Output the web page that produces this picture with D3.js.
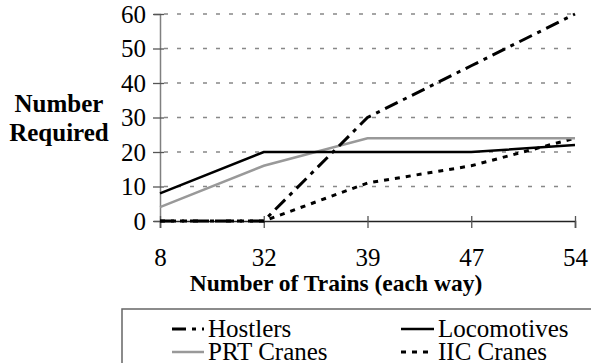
<!DOCTYPE html>
<html>
<head>
<meta charset="utf-8">
<script src="https://cdn.jsdelivr.net/npm/d3@7"></script>
<style>
  html, body { margin: 0; padding: 0; background: #fff; }
  svg { display: block; }
</style>
</head>
<body>
<svg id="chart" width="591" height="363"></svg>
<script>
// Trains per day (each way) and the equipment / staff needed at each level
const trains = ["8", "32", "39", "47", "54"];
const hostlers = [0, 0, 30, 45, 60];
const locomotives = [8, 20, 20, 20, 22];
const prtCranes = [4, 16, 24, 24, 24];
const iicCranes = [0, 0, 11, 16, 24];
const yTicks = [0, 10, 20, 30, 40, 50, 60];

const series = [
  { name: "Hostlers", values: hostlers, color: "#000", width: 3, dash: "14,6,4,6" },
  { name: "Locomotives", values: locomotives, color: "#000", width: 2.5, dash: null },
  { name: "PRT Cranes", values: prtCranes, color: "#999", width: 2.5, dash: null },
  { name: "IIC Cranes", values: iicCranes, color: "#000", width: 3, dash: "5,6" }
];

const FONT = "'Liberation Serif', 'DejaVu Serif', serif";

const svg = d3.select("#chart").attr("font-family", FONT);
const plot = { left: 160, right: 575, top: 14, bottom: 221 };

const x = d3.scalePoint().domain(trains).range([plot.left, plot.right]);
const y = d3.scaleLinear().domain([0, 60]).range([plot.bottom, plot.top]);

// Dashed horizontal gridlines
svg.append("g")
  .selectAll("line")
  .data(yTicks.filter(d => d > 0))
  .join("line")
  .attr("x1", plot.left + 4).attr("x2", plot.right)
  .attr("y1", d => y(d)).attr("y2", d => y(d))
  .attr("stroke", "#888").attr("stroke-width", 1.3)
  .attr("stroke-dasharray", "4,9");

// Y axis
const yAxis = svg.append("g")
  .attr("transform", `translate(${plot.left},0)`)
  .call(d3.axisLeft(y).tickValues(yTicks).tickSize(6).tickPadding(12))
  .attr("font-family", FONT);
yAxis.select(".domain").attr("stroke", "#808080").attr("stroke-width", 1.5);
yAxis.selectAll(".tick line").attr("x2", 4).attr("x1", -7).attr("stroke", "#555").attr("stroke-width", 1.3);
yAxis.selectAll(".tick text")
  .attr("font-size", 25).attr("fill", "#000")
  .style("font-family", FONT)
  .attr("x", -14);

// X axis
const xAxis = svg.append("g")
  .attr("transform", `translate(0,${plot.bottom})`)
  .call(d3.axisBottom(x).tickSize(7).tickPadding(20))
  .attr("font-family", FONT);
xAxis.select(".domain").attr("stroke", "#222").attr("stroke-width", 1.5);
xAxis.selectAll(".tick line").attr("y1", -5).attr("y2", 7).attr("stroke", "#555").attr("stroke-width", 1.3);
xAxis.selectAll(".tick text")
  .attr("font-size", 25).attr("fill", "#000")
  .style("font-family", FONT);

// Series lines
const line = d3.line()
  .x((d, i) => x(trains[i]))
  .y(d => y(d));

svg.append("g")
  .selectAll("path")
  .data(series.slice().reverse())
  .join("path")
  .attr("d", d => line(d.values))
  .attr("fill", "none")
  .attr("stroke", d => d.color)
  .attr("stroke-width", d => d.width)
  .attr("stroke-dasharray", d => d.dash);

// Axis titles
svg.append("text")
  .attr("x", 336).attr("y", 291)
  .attr("text-anchor", "middle")
  .attr("font-size", 23.5).attr("font-weight", "bold")
  .style("font-family", FONT)
  .text("Number of Trains (each way)");

const yTitle = svg.append("text")
  .attr("text-anchor", "middle")
  .attr("font-size", 25).attr("font-weight", "bold")
  .style("font-family", FONT);
yTitle.append("tspan").attr("x", 59).attr("y", 112).text("Number");
yTitle.append("tspan").attr("x", 59).attr("y", 141).text("Required");

// Legend
const legend = svg.append("g");
legend.append("rect")
  .attr("x", 122).attr("y", 309)
  .attr("width", 480).attr("height", 70)
  .attr("fill", "#fff").attr("stroke", "#666").attr("stroke-width", 1.5);

const legendPos = [
  { sx: 172, tx: 208, row: 0 },
  { sx: 401, tx: 438, row: 0 },
  { sx: 172, tx: 208, row: 1 },
  { sx: 401, tx: 438, row: 1 }
];

series.forEach((s, i) => {
  const p = legendPos[i];
  const cy = 329 + p.row * 23;
  legend.append("line")
    .attr("x1", p.sx).attr("x2", p.tx - 4)
    .attr("y1", cy).attr("y2", cy)
    .attr("stroke", s.color).attr("stroke-width", s.width)
    .attr("stroke-dasharray", s.dash);
  legend.append("text")
    .attr("x", p.tx).attr("y", cy + 8)
    .attr("font-size", 25)
    .style("font-family", FONT)
    .text(s.name);
});
</script>
</body>
</html>
